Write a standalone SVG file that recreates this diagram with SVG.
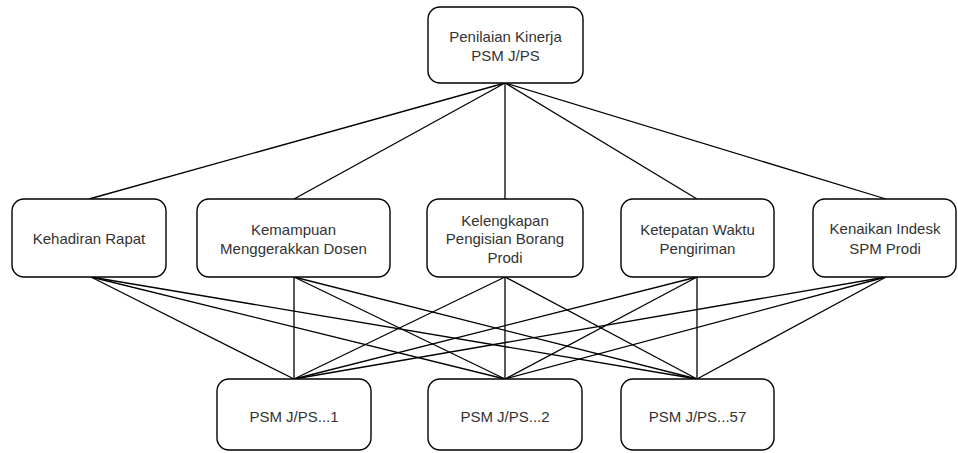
<svg xmlns="http://www.w3.org/2000/svg" width="958" height="453" viewBox="0 0 958 453">
  <style>
    .box { fill: #ffffff; stroke: #000000; stroke-width: 1.4; }
    .lbl { font-family: "Liberation Sans", Arial, sans-serif; font-size: 15px; fill: #333333; text-anchor: middle; }
    .edge { stroke: #000000; stroke-width: 1.3; fill: none; }
  </style>
  <rect width="958" height="453" fill="#ffffff"/>

  <!-- connectors -->
  <g id="connectors" class="edge">
    <!-- root to criteria -->
    <line x1="505" y1="83" x2="89" y2="199"/>
    <line x1="505" y1="83" x2="294" y2="199"/>
    <line x1="505" y1="83" x2="505" y2="199"/>
    <line x1="505" y1="83" x2="697" y2="199"/>
    <line x1="505" y1="83" x2="886" y2="199"/>
    <!-- criteria to alternatives -->
    <line x1="91" y1="277" x2="294" y2="379"/>
    <line x1="91" y1="277" x2="505" y2="379"/>
    <line x1="91" y1="277" x2="697" y2="379"/>
    <line x1="294" y1="277" x2="294" y2="379"/>
    <line x1="294" y1="277" x2="505" y2="379"/>
    <line x1="294" y1="277" x2="697" y2="379"/>
    <line x1="505" y1="277" x2="294" y2="379"/>
    <line x1="505" y1="277" x2="505" y2="379"/>
    <line x1="505" y1="277" x2="697" y2="379"/>
    <line x1="697" y1="277" x2="294" y2="379"/>
    <line x1="697" y1="277" x2="505" y2="379"/>
    <line x1="697" y1="277" x2="697" y2="379"/>
    <line x1="886" y1="277" x2="294" y2="379"/>
    <line x1="886" y1="277" x2="505" y2="379"/>
    <line x1="886" y1="277" x2="697" y2="379"/>
  </g>

  <!-- goal -->
  <g id="goal">
    <rect class="box" x="428" y="7" width="155" height="76" rx="12"/>
    <text class="lbl" x="505.5" y="41.5">Penilaian Kinerja</text>
    <text class="lbl" x="505.5" y="60.5">PSM J/PS</text>
  </g>

  <!-- criteria -->
  <g id="c1">
    <rect class="box" x="12" y="199" width="154" height="78" rx="12"/>
    <text class="lbl" x="89" y="243.5">Kehadiran Rapat</text>
  </g>
  <g id="c2">
    <rect class="box" x="197" y="199" width="193" height="78" rx="12"/>
    <text class="lbl" x="293.5" y="234.5">Kemampuan</text>
    <text class="lbl" x="293.5" y="253.5">Menggerakkan Dosen</text>
  </g>
  <g id="c3">
    <rect class="box" x="427" y="199" width="156" height="78" rx="12"/>
    <text class="lbl" x="505" y="225.5">Kelengkapan</text>
    <text class="lbl" x="505" y="244">Pengisian Borang</text>
    <text class="lbl" x="505" y="262.5">Prodi</text>
  </g>
  <g id="c4">
    <rect class="box" x="621" y="199" width="153" height="78" rx="12"/>
    <text class="lbl" x="697.5" y="234.5">Ketepatan Waktu</text>
    <text class="lbl" x="697.5" y="253.5">Pengiriman</text>
  </g>
  <g id="c5">
    <rect class="box" x="813" y="199" width="143" height="78" rx="12"/>
    <text class="lbl" x="885" y="233.5">Kenaikan Indesk</text>
    <text class="lbl" x="885" y="253.5">SPM Prodi</text>
  </g>

  <!-- alternatives -->
  <g id="a1">
    <rect class="box" x="217" y="379" width="154" height="71" rx="12"/>
    <text class="lbl" x="294" y="421.5">PSM J/PS...1</text>
  </g>
  <g id="a2">
    <rect class="box" x="428" y="379" width="154" height="71" rx="12"/>
    <text class="lbl" x="505" y="421.5">PSM J/PS...2</text>
  </g>
  <g id="a3">
    <rect class="box" x="621" y="379" width="153" height="71" rx="12"/>
    <text class="lbl" x="697.5" y="421.5">PSM J/PS...57</text>
  </g>
</svg>
